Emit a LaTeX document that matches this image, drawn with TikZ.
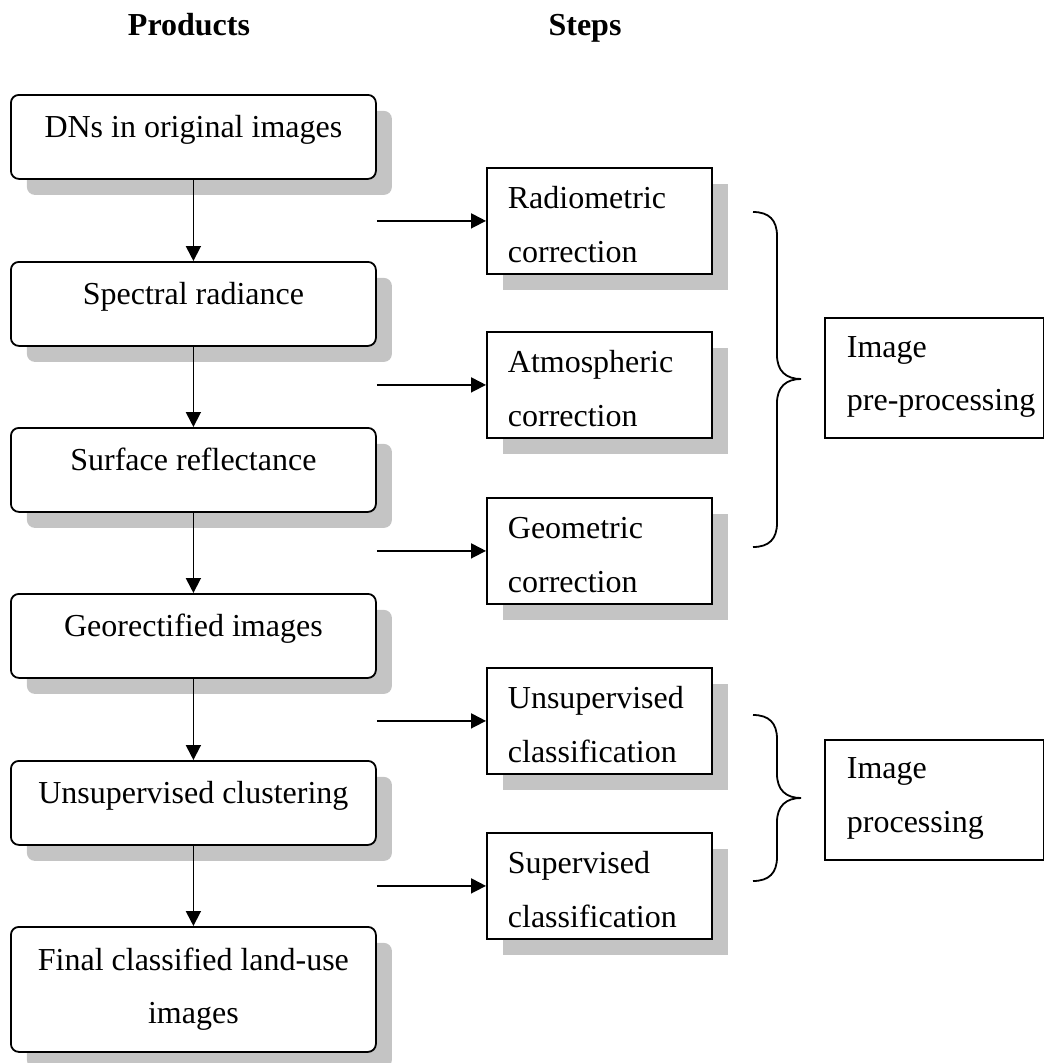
\documentclass[tikz,border=0pt]{standalone}
\usepackage{fontspec}
\setmainfont{Liberation Serif}
\usetikzlibrary{arrows.meta,shadows}
\definecolor{shadowgray}{gray}{0.77}
\newcommand{\bodyfont}{\fontsize{32}{54}\selectfont}
\begin{document}
\begin{tikzpicture}[x=1pt,y=-1pt,
  shd/.style={general shadow={fill=shadowgray, shadow xshift=16pt, shadow yshift=-16pt}},
  lbox/.style={draw, line width=1.8pt, rounded corners=8pt, fill=white, anchor=north west,
    minimum width=365pt, inner xsep=0pt, inner ysep=0pt, text height=43pt, text depth=41pt,
    align=center, font=\bodyfont, shd},
  rbox/.style={draw, line width=1.8pt, fill=white, anchor=north west,
    text width=183pt, inner xsep=21pt, inner ysep=0pt, text height=41pt, text depth=65pt,
    align=left, font=\bodyfont, shd},
  gbox/.style={draw, line width=1.8pt, fill=white, anchor=north west,
    text width=175pt, inner xsep=22pt, inner ysep=0pt, text height=40pt, text depth=80pt,
    align=left, font=\bodyfont},
  head/.style={anchor=base, font=\fontsize{32}{36}\selectfont\bfseries},
  arr/.style={line width=1.8pt, -{Triangle[length=15pt,width=15pt]}},
  brace/.style={line width=1.8pt}
]
\useasboundingbox (0,0) rectangle (1044,1063);

% headings
\node[head] (hp) at (189,35) {Products};
\node[head] (hs) at (585,35) {Steps};

% products column
\node[lbox] (p1) at (10,94) {DNs in original images};
\node[lbox] (p2) at (10,261) {Spectral radiance};
\node[lbox] (p3) at (10,427) {Surface reflectance};
\node[lbox] (p4) at (10,593) {Georectified images};
\node[lbox] (p5) at (10,760) {Unsupervised clustering};
\node[lbox, text height=97pt, text depth=28pt, font=\fontsize{32}{53}\selectfont] (p6) at (10,926) {Final classified land-use\\images};

% steps column
\node[rbox] (s1) at (486,167) {Radiometric\\correction};
\node[rbox] (s2) at (486,331) {Atmospheric\\correction};
\node[rbox] (s3) at (486,497) {Geometric\\correction};
\node[rbox] (s4) at (486,667) {Unsupervised\\classification};
\node[rbox] (s5) at (486,832) {Supervised\\classification};

% groups
\node[gbox, font=\fontsize{32}{53}\selectfont] (g1) at (824,317) {Image\\\mbox{pre-processing}};
\node[gbox, text height=39pt, text depth=81pt, font=\fontsize{32}{54}\selectfont] (g2) at (824,739) {Image\\processing};

% vertical arrows
\draw[arr] (p1.south) -- (p2.north);
\draw[arr] (p2.south) -- (p3.north);
\draw[arr] (p3.south) -- (p4.north);
\draw[arr] (p4.south) -- (p5.north);
\draw[arr] (p5.south) -- (p6.north);

% horizontal arrows
\draw[arr] (p1.east |- s1.west) -- (s1.west);
\draw[arr] (p1.east |- s2.west) -- (s2.west);
\draw[arr] (p1.east |- s3.west) -- (s3.west);
\draw[arr] (p1.east |- s4.west) -- (s4.west);
\draw[arr] (p1.east |- s5.west) -- (s5.west);

% braces
\draw[brace] (753,212) .. controls (769,212) and (777,220) .. (777,236) -- (777,355)
  .. controls (777,371) and (786,379) .. (801,379)
  .. controls (786,379) and (777,387) .. (777,403) -- (777,523)
  .. controls (777,539) and (769,547) .. (753,547);
\draw[brace] (753,715) .. controls (769,715) and (777,723) .. (777,739) -- (777,774)
  .. controls (777,790) and (786,798) .. (801,798)
  .. controls (786,798) and (777,806) .. (777,822) -- (777,857)
  .. controls (777,873) and (769,881) .. (753,881);
\end{tikzpicture}
\end{document}
